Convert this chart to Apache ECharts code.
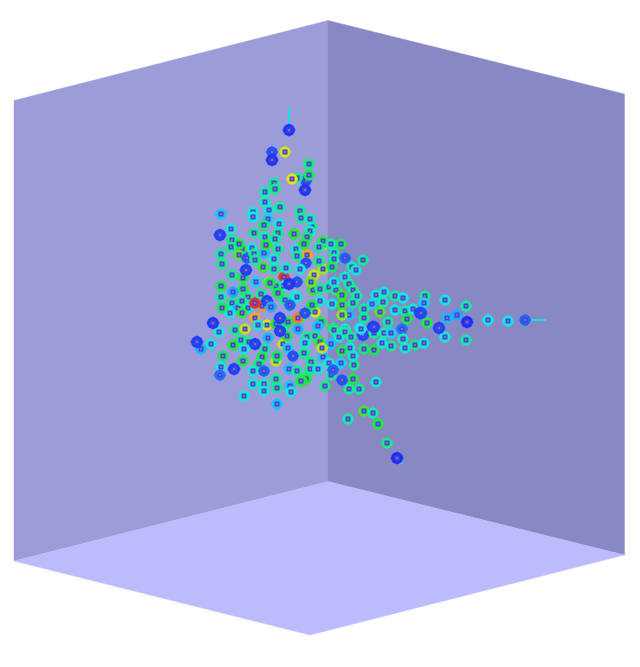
<!DOCTYPE html>
<html>
<head>
<meta charset="utf-8">
<style>
  html, body { margin: 0; padding: 0; background: #fff; }
  #chart { width: 640px; height: 667px; }
</style>
<script src="https://cdn.jsdelivr.net/npm/echarts@6/dist/echarts.min.js"></script>
</head>
<body>
<div id="chart"></div>
<script>
// box faces, corners
const leftWall = [[14, 100.5], [328, 20.5], [328, 481.5], [14, 561]]
const rightWall = [[328, 20.5], [624.5, 94], [624.5, 555], [328, 481.5]]
const floor = [[14, 561], [328, 481.5], [624.5, 555], [310, 635]]

// tails on the outermost points
const tailTop = [[289, 108], [289, 130]]
const tailRight = [[525, 320], [546, 320]]
const tailBottom = [[397, 458], [402, 464]]

// point lists: x, y, value. drawn back to front
const farPoints = [
  [323, 245, 66], [311, 282, 68], [314, 275, 72], [323, 269, 66], [307, 255, 85], [262, 306, 88],
  [255, 318, 85], [315, 312, 74], [276, 361, 70], [283, 344, 72], [269, 282, 64], [284, 277, 97],
  [306, 181, 12], [373, 327, 6], [363, 335, 10], [297, 178, 47], [312, 227, 47], [323, 241, 57],
  [242, 249, 57], [239, 255, 60], [296, 249, 37], [264, 253, 27], [247, 258, 14], [306, 263, 12],
  [263, 267, 58], [283, 286, 37], [276, 286, 47], [261, 294, 47], [248, 297, 47], [232, 303, 47],
  [238, 308, 27], [248, 308, 37], [230, 313, 37], [242, 313, 57], [285, 300, 47], [295, 296, 37],
  [313, 290, 57], [320, 289, 47], [329, 287, 47], [336, 290, 47], [320, 301, 37], [332, 304, 37],
  [342, 295, 57], [342, 305, 57], [349, 315, 27], [342, 315, 64], [300, 318, 47], [306, 313, 47],
  [307, 337, 47], [315, 336, 47], [305, 343, 37], [320, 342, 57], [311, 362, 47], [310, 369, 47],
  [241, 340, 47], [249, 342, 47], [268, 338, 27], [283, 331, 37], [265, 349, 47], [307, 377, 47]
]
const midPoints = [
  [309, 164, 48], [309, 175, 52], [274, 183, 46], [275, 189, 48], [265, 192, 44], [265, 202, 41],
  [280, 207, 46], [269, 210, 38], [253, 212, 38], [253, 217, 36], [221, 214, 28], [300, 211, 46],
  [301, 218, 46], [310, 219, 42], [268, 219, 30], [279, 224, 38], [264, 225, 50], [310, 231, 38],
  [254, 233, 47], [231, 229, 37], [278, 233, 46], [294, 234, 56], [265, 237, 44], [275, 239, 46],
  [307, 237, 50], [232, 240, 46], [239, 244, 54], [231, 247, 47], [266, 245, 56], [304, 244, 56],
  [319, 247, 46], [331, 244, 44], [341, 244, 52], [252, 248, 37], [278, 249, 46], [221, 254, 46],
  [222, 264, 47], [254, 254, 46], [255, 260, 46], [274, 259, 38], [274, 269, 46], [286, 268, 38],
  [297, 256, 47], [300, 269, 37], [232, 275, 47], [243, 278, 54], [221, 286, 54], [221, 297, 45],
  [222, 308, 52], [243, 289, 52], [278, 293, 54], [297, 297, 38], [242, 301, 47], [334, 253, 44],
  [363, 260, 46], [319, 261, 47], [334, 259, 44], [332, 267, 52], [352, 267, 42], [356, 270, 38],
  [345, 277, 38], [349, 284, 46], [334, 282, 38], [353, 290, 46], [357, 296, 44], [376, 295, 38],
  [384, 292, 37], [395, 296, 46], [403, 298, 37], [372, 304, 30], [383, 302, 44], [364, 309, 46],
  [380, 312, 60], [395, 310, 38], [405, 311, 44], [413, 309, 37], [407, 319, 54], [364, 318, 46],
  [388, 322, 46], [353, 303, 46], [312, 305, 54], [321, 322, 55], [333, 328, 52], [345, 329, 38],
  [360, 328, 36], [334, 330, 47], [339, 337, 38], [345, 332, 44], [351, 337, 46], [361, 329, 36],
  [374, 333, 46], [384, 333, 44], [391, 333, 30], [402, 329, 16], [403, 339, 42], [415, 345, 48],
  [405, 348, 38], [391, 346, 46], [382, 343, 37], [374, 350, 54], [364, 349, 50], [350, 348, 38],
  [342, 351, 54], [331, 344, 28], [318, 326, 28], [304, 353, 48], [323, 357, 28], [329, 363, 38],
  [341, 363, 30], [353, 356, 38], [354, 365, 46], [318, 369, 37], [331, 375, 46], [306, 379, 54],
  [302, 381, 54], [353, 379, 54], [325, 386, 47], [376, 382, 38], [349, 389, 46], [359, 389, 46],
  [219, 332, 37], [235, 330, 47], [233, 345, 55], [244, 349, 37], [287, 336, 54], [288, 348, 30],
  [304, 353, 47], [262, 357, 54], [277, 356, 52], [223, 356, 52], [243, 361, 54], [259, 364, 50],
  [221, 367, 37], [253, 371, 38], [289, 369, 28], [297, 371, 46], [276, 379, 48], [253, 384, 38],
  [264, 384, 41], [290, 386, 28], [301, 381, 54], [277, 388, 46], [264, 391, 37], [291, 392, 37],
  [244, 396, 38], [277, 404, 28], [211, 344, 37], [201, 349, 26], [364, 411, 58], [373, 413, 44],
  [348, 419, 44], [378, 424, 54], [387, 443, 48], [425, 296, 47], [445, 300, 37], [466, 306, 44],
  [424, 303, 30], [427, 323, 54], [447, 318, 26], [457, 315, 24], [445, 337, 37], [466, 340, 44],
  [424, 343, 36], [488, 320, 36], [508, 321, 34]
]
const nearPoints = [
  [285, 152, 74], [292, 179, 76], [245, 329, 72], [267, 325, 74], [258, 325, 37], [276, 324, 56],
  [288, 322, 54], [233, 292, 24], [256, 282, 30], [322, 348, 70], [270, 283, 54], [311, 282, 62],
  [298, 318, 90], [255, 303, 98], [246, 270, 8], [220, 235, 8], [272, 152, 12], [272, 160, 6],
  [289, 130, 6], [305, 190, 6], [297, 282, 12], [289, 284, 6], [267, 301, 8], [271, 307, 24],
  [290, 305, 14], [305, 313, 12], [280, 318, 8], [280, 331, 8], [298, 329, 26], [213, 323, 6],
  [197, 342, 8], [255, 344, 8], [293, 356, 12], [234, 369, 8], [220, 375, 16], [264, 371, 14],
  [333, 370, 14], [342, 380, 12], [345, 258, 14], [420, 313, 8], [439, 328, 8], [421, 313, 10],
  [467, 322, 4], [525, 320, 14], [397, 458, 4], [374, 327, 8]
]
const allPoints = farPoints.concat(midPoints, nearPoints)

// rainbow from low to high value
const rampColors = ['#2018f0', '#1a50ff', '#1ea0ff', '#18e4f4', '#18eca4', '#20e838', '#a0e81c', '#f0e414', '#ff8a18', '#f01818']

const chart = echarts.init(document.getElementById('chart'), null, { renderer: 'canvas' })

function faceItem(points, color) {
  return {
    type: 'custom',
    coordinateSystem: 'cartesian2d',
    silent: true,
    data: points,
    z: 1,
    renderItem: (params, api) => {
      if (params.dataIndex !== 0) return null
      return {
        type: 'polygon',
        shape: { points: points.map(p => api.coord(p)) },
        style: { fill: color, stroke: color, lineWidth: 0.4 }
      }
    }
  }
}

function tailItem(points) {
  return {
    type: 'line',
    data: points,
    showSymbol: false,
    silent: true,
    z: 2,
    lineStyle: { color: '#18dcf0', width: 2 }
  }
}

chart.setOption({
  animation: false,
  backgroundColor: '#ffffff',
  grid: { left: 0, right: 0, top: 0, bottom: 0 },
  xAxis: { type: 'value', min: 0, max: 640, show: false },
  yAxis: { type: 'value', min: 0, max: 667, inverse: true, show: false },
  visualMap: {
    show: false,
    seriesIndex: 6,
    dimension: 2,
    min: 0,
    max: 100,
    inRange: { color: rampColors }
  },
  series: [
    faceItem(leftWall, '#9c9cd8'),
    faceItem(rightWall, '#8888c4'),
    faceItem(floor, '#bcbcfc'),
    tailItem(tailTop),
    tailItem(tailRight),
    tailItem(tailBottom),
    {
      type: 'custom',
      coordinateSystem: 'cartesian2d',
      silent: true,
      z: 3,
      data: allPoints,
      encode: { x: 0, y: 1 },
      renderItem: (params, api) => {
        const c = api.coord([api.value(0), api.value(1)])
        const color = api.visual('color')
        const r = api.value(2) < 12 ? 6 : 5.6
        return {
          type: 'group',
          children: [
            { type: 'circle', shape: { cx: c[0], cy: c[1], r: r }, style: { fill: color } },
            // little spikes on the outline
            { type: 'rect', shape: { x: c[0] - 0.5, y: c[1] - r - 0.6, width: 1, height: 2 * r + 1.2 }, style: { fill: color } },
            { type: 'rect', shape: { x: c[0] - r - 0.6, y: c[1] - 0.5, width: 2 * r + 1.2, height: 1 }, style: { fill: color } },
            { type: 'rect', shape: { x: c[0] - 2.5, y: c[1] - 2.5, width: 5, height: 5 }, style: { fill: '#4644d0' } },
            { type: 'rect', shape: { x: c[0] - 1, y: c[1] - 1, width: 2, height: 2 }, style: { fill: '#7472cc' } }
          ]
        }
      }
    }
  ]
})
</script>
</body>
</html>
